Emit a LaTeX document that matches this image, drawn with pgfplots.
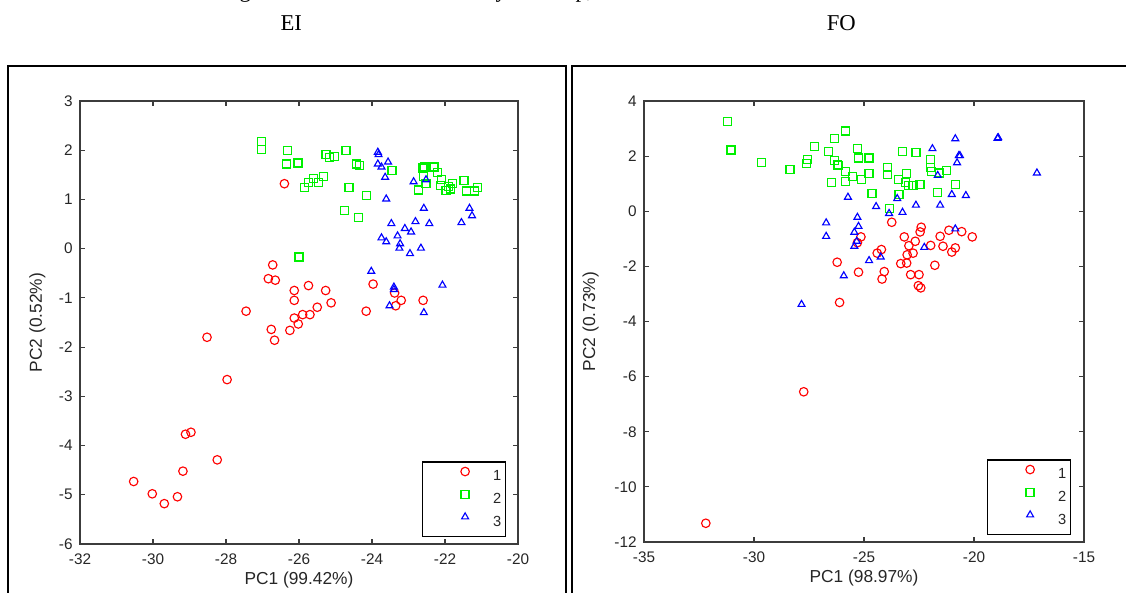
\documentclass[border=0pt]{standalone}
\usepackage{pgfplots}
\pgfplotsset{compat=1.18}
\usepackage{pgfplotstable}
\usepackage{fontspec}
\setmainfont{Liberation Sans}
\newfontfamily\seriffont{Liberation Serif}
\definecolor{mred}{RGB}{255,0,0}
\definecolor{mgreen}{RGB}{0,240,0}
\definecolor{mblue}{RGB}{0,0,255}
\definecolor{axgray}{RGB}{60,60,60}
\definecolor{txtgray}{RGB}{38,38,38}

\pgfplotstableread{
x y
-26.40 1.32
-26.72 -0.33
-26.84 -0.61
-26.65 -0.64
-26.13 -0.85
-26.13 -1.05
-25.74 -0.75
-25.27 -0.85
-25.12 -1.10
-25.50 -1.19
-25.70 -1.34
-25.90 -1.34
-26.13 -1.41
-26.02 -1.53
-26.25 -1.66
-26.76 -1.64
-27.45 -1.27
-23.97 -0.72
-24.16 -1.27
-23.38 -0.90
-23.20 -1.05
-23.35 -1.16
-22.60 -1.05
-28.52 -1.80
-26.67 -1.86
-27.97 -2.66
-29.11 -3.77
-28.96 -3.73
-28.24 -4.29
-29.18 -4.52
-30.53 -4.73
-30.02 -4.98
-29.69 -5.18
-29.33 -5.04
}\EIone

\pgfplotstableread{
x y
-27.02 2.17
-27.02 2.02
-26.32 1.99
-26.35 1.72
-26.03 1.74
-25.84 1.24
-25.73 1.34
-25.61 1.42
-25.46 1.35
-25.32 1.47
-25.26 1.91
-25.17 1.85
-25.02 1.88
-24.71 1.99
-24.63 1.25
-24.42 1.72
-24.35 1.69
-24.16 1.08
-24.75 0.77
-24.38 0.63
-26.00 -0.17
-23.45 1.59
-22.73 1.19
-22.60 1.64
-22.56 1.66
-22.59 1.47
-22.52 1.33
-22.30 1.66
-22.20 1.55
-22.10 1.40
-22.12 1.28
-21.97 1.18
-21.90 1.26
-21.80 1.33
-21.85 1.21
-21.48 1.38
-21.41 1.17
-21.20 1.17
-21.11 1.25
}\EItwo

\pgfplotstableread{
x y
-23.84 1.96
-23.82 1.91
-23.84 1.72
-23.74 1.66
-23.56 1.76
-23.64 1.45
-23.61 1.01
-23.47 0.51
-23.74 0.22
-23.61 0.14
-23.30 0.26
-23.10 0.41
-22.93 0.34
-23.23 0.10
-23.25 0.01
-22.96 -0.10
-22.66 0.01
-22.81 0.55
-22.58 0.82
-22.43 0.51
-22.86 1.36
-22.52 1.40
-21.55 0.53
-21.33 0.82
-21.26 0.67
-24.02 -0.46
-23.40 -0.78
-23.40 -0.83
-23.52 -1.16
-22.07 -0.74
-22.58 -1.30
}\EIthree

\pgfplotstableread{
x y
-23.74 -0.40
-25.14 -0.93
-25.30 -1.14
-23.17 -0.93
-22.40 -0.58
-22.45 -0.75
-22.67 -1.09
-22.96 -1.25
-22.77 -1.52
-23.04 -1.58
-23.06 -1.88
-23.33 -1.90
-24.21 -1.39
-24.40 -1.52
-24.08 -2.19
-24.18 -2.46
-25.25 -2.21
-26.22 -1.85
-22.88 -2.30
-22.50 -2.30
-22.53 -2.70
-22.42 -2.78
-21.97 -1.24
-21.78 -1.96
-21.54 -0.91
-21.41 -1.27
-21.14 -0.69
-21.01 -1.48
-20.85 -1.33
-20.56 -0.74
-20.08 -0.93
-26.11 -3.31
-27.74 -6.55
-32.19 -11.32
}\FOone

\pgfplotstableread{
x y
-31.22 3.25
-31.04 2.22
-29.65 1.76
-28.37 1.52
-27.62 1.73
-27.57 1.88
-27.25 2.36
-26.61 2.17
-26.34 2.65
-25.84 2.91
-26.34 1.84
-26.21 1.70
-26.18 1.66
-26.48 1.03
-25.84 1.43
-25.84 1.08
-25.54 1.25
-25.31 2.27
-25.25 1.93
-25.12 1.14
-24.77 1.93
-24.77 1.37
-24.64 0.64
-23.92 1.60
-23.92 1.32
-23.44 1.15
-23.41 0.61
-23.84 0.10
-23.25 2.17
-23.06 1.38
-23.12 1.03
-22.98 0.93
-22.77 0.93
-22.45 0.98
-22.64 2.12
-21.97 1.88
-21.97 1.58
-21.92 1.44
-21.57 1.39
-21.25 1.48
-21.65 0.69
-20.85 0.98
}\FOtwo

\pgfplotstableread{
x y
-25.73 0.51
-24.45 0.17
-23.86 -0.08
-23.49 0.46
-23.25 -0.04
-22.64 0.22
-21.89 2.27
-21.65 1.30
-21.54 0.22
-21.01 0.61
-20.37 0.57
-20.85 2.63
-20.69 2.02
-20.64 2.02
-20.77 1.76
-20.85 -0.64
-18.93 2.65
-18.90 2.67
-17.14 1.39
-26.72 -0.42
-26.72 -0.91
-25.30 -0.22
-25.25 -0.55
-25.44 -0.76
-25.33 -1.09
-25.44 -1.27
-24.77 -1.79
-24.24 -1.66
-25.92 -2.34
-22.26 -1.31
-27.84 -3.38
}\FOthree

\pgfplotsset{
  pca/.style={
    scale only axis,
    axis line style={axgray, line width=1.1pt},
    tick style={axgray, line width=0.9pt},
    tick align=inside,
    major tick length=4pt,
    ticklabel style={font=\fontsize{11.5}{13}\selectfont, text=txtgray},
    xticklabel style={yshift=-4pt},
    yticklabel style={xshift=-2pt},
    /pgf/number format/assume math mode=true,
    every axis x label/.style={at={(axis description cs:0.5,0)}, anchor=center, yshift=-27pt, font=\fontsize{13}{15}\selectfont, text=txtgray},
    legend style={draw=black, line width=1.1pt, fill=white,
      font=\fontsize{11}{12}\selectfont, text=txtgray,
      inner xsep=1pt, inner ysep=2.5pt, row sep=0pt,
      at={(1,0)}, anchor=south east},
    legend cell align=left,
    legend image code/.code={\path[draw=none,fill=none] (0pt,-8.5pt) (50pt,8.5pt); \draw[##1] plot coordinates {(31pt,3.8pt)};},
    every axis plot/.append style={only marks},
  },
  m1/.style={mark=o, mred, mark size=3.2pt, line width=0.85pt},
  m2/.style={mark=square, mgreen, mark size=3pt, line width=0.95pt},
  m3/.style={mark=triangle, mblue, mark size=3pt, line width=0.85pt},
}

\begin{document}
\begin{tikzpicture}
\useasboundingbox (0,0) rectangle (844.5pt,444pt);
% frames
\draw[line width=1.5pt] (6pt,-10pt) -- (6pt,394.5pt) -- (424.5pt,394.5pt) -- (424.5pt,-10pt);
\draw[line width=1.5pt] (429pt,-10pt) -- (429pt,394.5pt) -- (850pt,394.5pt);
% titles
\node[font=\seriffont\fontsize{17}{20}\selectfont] at (218.5pt,427pt) {EI};
\node[font=\seriffont\fontsize{17}{20}\selectfont] at (631pt,427pt) {FO};
\node[font=\seriffont\fontsize{17}{20}\selectfont, anchor=base] at (184pt,445.5pt) {g};
\node[font=\seriffont\fontsize{17}{20}\selectfont, anchor=base] at (376pt,445.5pt) {y};
\node[font=\seriffont\fontsize{17}{20}\selectfont, anchor=base] at (438pt,445.5pt) {p,};

\begin{axis}[pca,
  at={(60pt,36pt)}, anchor=south west,
  width=328.5pt, height=332.25pt,
  xmin=-32, xmax=-20, ymin=-6, ymax=3,
  xtick={-32,-30,...,-20}, ytick={-6,-5,...,3},
  xlabel={PC1 (99.42\%)}, ylabel={PC2 (0.52\%)},
  every axis y label/.style={at={(axis description cs:0,0.5)}, rotate=90, anchor=center, yshift=32pt, font=\fontsize{13}{15}\selectfont, text=txtgray},
  legend style={xshift=-9pt, yshift=5pt},
]
\addplot[m1] table {\EIone};
\addplot[m2] table {\EItwo};
\addplot[m3] table {\EIthree};
\legend{1,2,3}
\end{axis}

\begin{axis}[pca,
  at={(483pt,37.5pt)}, anchor=south west,
  width=330pt, height=330.75pt,
  xmin=-35, xmax=-15, ymin=-12, ymax=4,
  xtick={-35,-30,...,-15}, ytick={-12,-10,...,4},
  xlabel={PC1 (98.97\%)}, ylabel={PC2 (0.73\%)},
  every axis y label/.style={at={(axis description cs:0,0.5)}, rotate=90, anchor=center, yshift=40pt, font=\fontsize{13}{15}\selectfont, text=txtgray},
  legend style={xshift=-9.75pt, yshift=5pt},
]
\addplot[m1] table {\FOone};
\addplot[m2] table {\FOtwo};
\addplot[m3] table {\FOthree};
\legend{1,2,3}
\end{axis}
\end{tikzpicture}
\end{document}
